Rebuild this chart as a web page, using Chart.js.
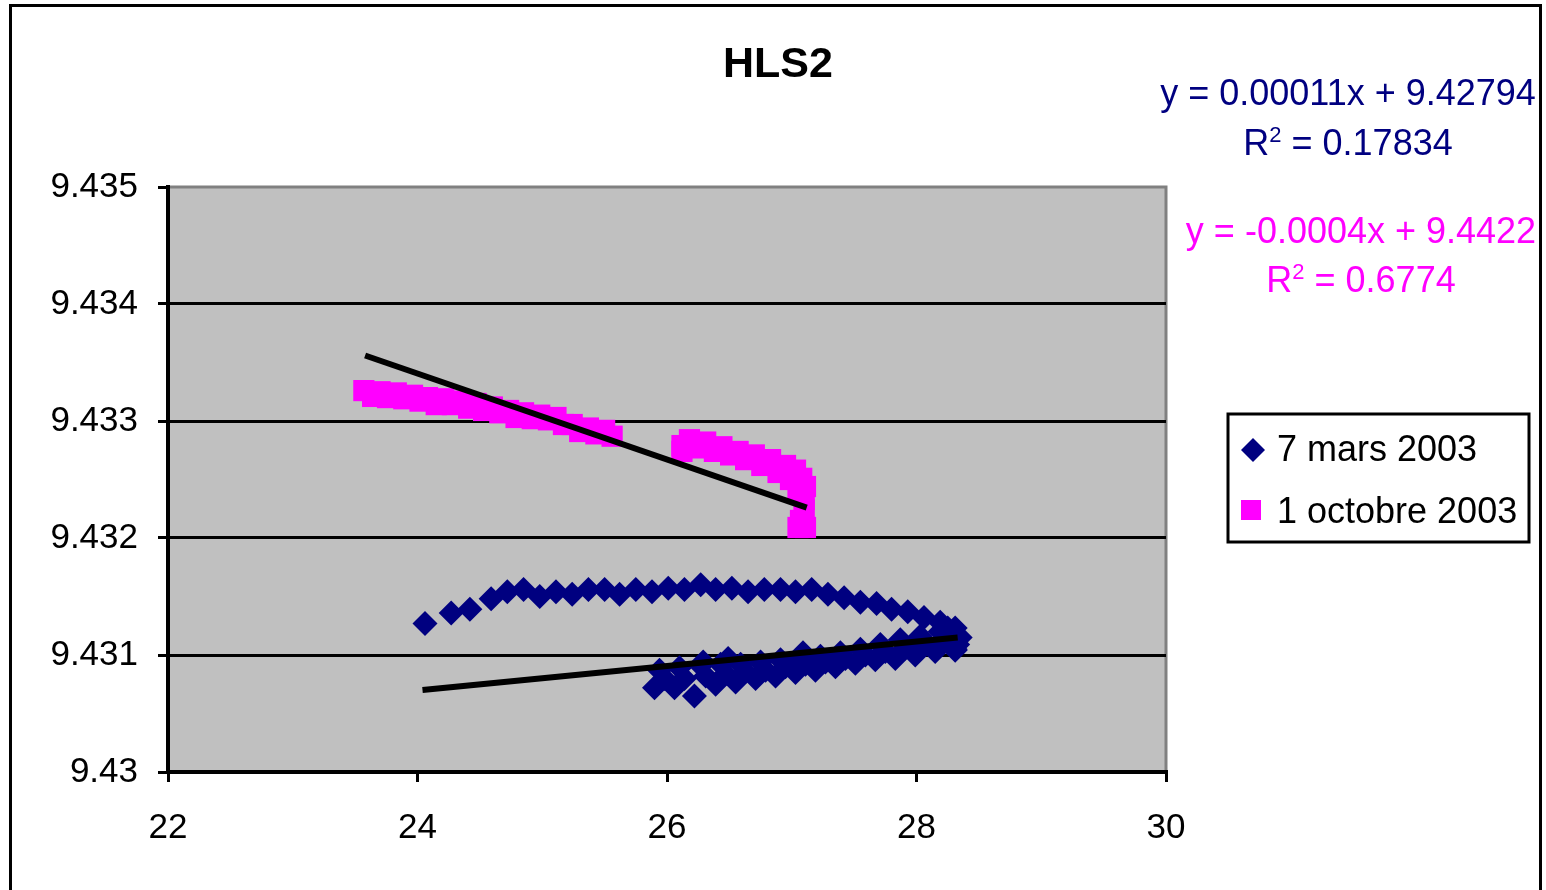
<!DOCTYPE html>
<html>
<head>
<meta charset="utf-8">
<script src="https://cdn.jsdelivr.net/npm/chart.js@4.4.0/dist/chart.umd.min.js"></script>
<style>
  html, body { margin: 0; padding: 0; background: #fff; overflow: hidden; }
  #wrap { position: relative; width: 1546px; height: 890px; }
  #chart { position: absolute; left: 0; top: 0; }
  #frame { position: absolute; left: 9px; top: 4px; width: 1527px; height: 1000px;
           border: 3px solid #000; border-bottom: none; pointer-events: none; }
</style>
</head>
<body>
<div id="wrap">
  <canvas id="chart" width="1546" height="890"></canvas>
  <div id="frame"></div>
</div>
<script>
var FONT = '"Liberation Sans", Arial, Helvetica, sans-serif';

var chartTitle = 'HLS2';
var seriesLabels = ['7 mars 2003', '1 octobre 2003'];
var seriesColors = ['#000080', '#ff00ff'];

// 7 mars 2003 (blue diamonds): upper path, then the return band
var marsX = [24.06, 24.27, 24.42, 24.59, 24.72, 24.85, 24.98, 25.11, 25.24, 25.37, 25.50, 25.62,
  25.75, 25.88, 26.01, 26.14, 26.27, 26.39, 26.52, 26.65, 26.78, 26.91, 27.03, 27.16, 27.29, 27.42,
  27.55, 27.68, 27.80, 27.93, 28.06, 28.19, 28.25, 28.31, 28.33, 28.31,
  28.31, 28.19, 28.03, 27.87, 27.71, 27.55, 27.39, 27.23, 27.07, 26.91, 26.75, 26.59, 26.43, 26.27, 26.10, 25.94,
  28.35, 28.23, 28.07, 27.91, 27.75, 27.59, 27.43, 27.27, 27.11, 26.95, 26.79, 26.63, 26.47, 26.31, 26.14, 25.98,
  28.31, 28.15, 27.99, 27.83, 27.67, 27.51, 27.35, 27.19, 27.03, 26.87, 26.71, 26.55, 26.39, 26.22, 26.06, 25.90,
  26.49, 27.09, 26.29];
var marsY = [9.43127, 9.43136, 9.43139, 9.43148, 9.43154, 9.43156, 9.43150, 9.43154, 9.43152, 9.43156, 9.43156, 9.43152,
  9.43156, 9.43154, 9.43157, 9.43156, 9.43160, 9.43156, 9.43157, 9.43154, 9.43156, 9.43156, 9.43154, 9.43156, 9.43152, 9.43149,
  9.43145, 9.43144, 9.43139, 9.43137, 9.43132, 9.43128, 9.43123, 9.43116, 9.43109, 9.43104,
  9.43123, 9.43120, 9.43116, 9.43113, 9.43109, 9.43105, 9.43102, 9.43099, 9.43097, 9.43096, 9.43094, 9.43092, 9.43092, 9.43091, 9.43089, 9.43087,
  9.43115, 9.43113, 9.43109, 9.43106, 9.43103, 9.43100, 9.43097, 9.43094, 9.43092, 9.43090, 9.43087, 9.43086, 9.43084, 9.43082, 9.43080, 9.43080,
  9.43105, 9.43103, 9.43100, 9.43097, 9.43096, 9.43093, 9.43090, 9.43087, 9.43085, 9.43082, 9.43080, 9.43077, 9.43075, 9.43065, 9.43072, 9.43072,
  9.43097, 9.43102, 9.43094];

// 1 octobre 2003 (pink squares)
var octX = [23.57, 23.64, 23.70, 23.76, 23.83, 23.89, 23.96, 24.02, 24.08, 24.15, 24.21, 24.28, 24.34, 24.41,
  24.47, 24.53, 24.60, 24.66, 24.73, 24.79, 24.85, 24.92, 24.98, 25.05, 25.11, 25.17, 25.24, 25.30, 25.37,
  25.43, 25.50, 25.56,
  26.12, 26.12, 26.18, 26.25, 26.31, 26.38, 26.44, 26.51, 26.57, 26.63, 26.70, 26.76, 26.83, 26.89, 26.95,
  26.99, 27.03, 27.05, 27.08, 27.10, 27.11, 27.10, 27.07, 27.05, 27.11];
var octY = [9.43326, 9.43321, 9.43325, 9.43320, 9.43324, 9.43319, 9.43322, 9.43317, 9.43320, 9.43314, 9.43319, 9.43314, 9.43317, 9.43311,
  9.43315, 9.43309, 9.43312, 9.43307, 9.43309, 9.43303, 9.43307, 9.43302, 9.43305, 9.43301, 9.43303, 9.43297, 9.43297, 9.43291, 9.43294,
  9.43289, 9.43292, 9.43287,
  9.43279, 9.43274, 9.43284, 9.43277, 9.43282, 9.43274, 9.43278, 9.43271, 9.43274, 9.43267, 9.43271, 9.43262, 9.43267, 9.43256, 9.43262,
  9.43250, 9.43258, 9.43241, 9.43251, 9.43233, 9.43244, 9.43224, 9.43215, 9.43209, 9.43209];

// linear trend lines (end points)
var marsTrendX = [24.04, 28.33];
var marsTrendY = [9.43070, 9.43115];
var octTrendX = [23.58, 27.12];
var octTrendY = [9.43356, 9.43226];

var marsEquation = ['y = 0.00011x + 9.42794', ' = 0.17834'];
var octEquation = ['y = -0.0004x + 9.4422', ' = 0.6774'];

var xMin = 22, xMax = 30, xStep = 2;
var yMin = 9.43, yMax = 9.435, yStep = 0.001;

function toPoints(xs, ys) {
  return xs.map(function(x, i) { return {x: x, y: ys[i]}; });
}

// Equation text with R squared
function drawEquation(c, lines, cx, base1, base2, color) {
  c.fillStyle = color;
  c.textBaseline = 'alphabetic';
  c.textAlign = 'left';
  c.font = '36px ' + FONT;
  var w1 = c.measureText(lines[0]).width;
  c.fillText(lines[0], cx - w1 / 2, base1);
  var wR = c.measureText('R').width;
  var wRest = c.measureText(lines[1]).width;
  c.font = '22px ' + FONT;
  var w2 = c.measureText('2').width;
  var x = cx - (wR + w2 + wRest) / 2;
  c.font = '36px ' + FONT;
  c.fillText('R', x, base2);
  c.font = '22px ' + FONT;
  c.fillText('2', x + wR, base2 - 13);
  c.font = '36px ' + FONT;
  c.fillText(lines[1], x + wR + w2, base2);
}

var decor = {
  id: 'decor',
  beforeDraw: function(chart) {
    var a = chart.chartArea, c = chart.ctx;
    c.save();
    c.fillStyle = '#c0c0c0';
    c.fillRect(a.left, a.top, a.right - a.left, a.bottom - a.top);
    c.strokeStyle = '#808080';
    c.lineWidth = 3;
    c.beginPath();
    c.moveTo(a.left, a.top);
    c.lineTo(a.right, a.top);
    c.lineTo(a.right, a.bottom);
    c.stroke();
    c.restore();
  },
  afterDraw: function(chart) {
    var c = chart.ctx;
    c.save();
    // title
    c.fillStyle = '#000';
    c.font = 'bold 43px ' + FONT;
    c.textAlign = 'center';
    c.textBaseline = 'alphabetic';
    c.fillText(chartTitle, 778, 77);

    drawEquation(c, marsEquation, 1348, 105, 155, seriesColors[0]);
    drawEquation(c, octEquation, 1361, 243, 292, seriesColors[1]);

    // legend
    c.fillStyle = '#fff';
    c.fillRect(1228, 414, 301, 128);
    c.strokeStyle = '#000';
    c.lineWidth = 3;
    c.strokeRect(1228, 414, 301, 128);

    c.fillStyle = seriesColors[0];
    c.beginPath();
    c.moveTo(1253, 438); c.lineTo(1265, 450); c.lineTo(1253, 462); c.lineTo(1241, 450);
    c.closePath();
    c.fill();
    c.fillStyle = seriesColors[1];
    c.fillRect(1241, 500, 20, 20);

    c.fillStyle = '#000';
    c.font = '36px ' + FONT;
    c.textAlign = 'left';
    c.fillText(seriesLabels[0], 1277, 461);
    c.fillText(seriesLabels[1], 1277, 523);
    c.restore();
  }
};

var ctx = document.getElementById('chart').getContext('2d');

new Chart(ctx, {
  type: 'scatter',
  data: {
    datasets: [
      {
        label: 'trend mars',
        data: toPoints(marsTrendX, marsTrendY),
        showLine: true,
        borderColor: '#000',
        borderWidth: 6,
        pointRadius: 0,
        order: 0
      },
      {
        label: 'trend octobre',
        data: toPoints(octTrendX, octTrendY),
        showLine: true,
        borderColor: '#000',
        borderWidth: 6,
        pointRadius: 0,
        order: 0
      },
      {
        label: seriesLabels[0],
        data: toPoints(marsX, marsY),
        pointStyle: 'rectRot',
        pointRadius: 12.5,
        backgroundColor: seriesColors[0],
        borderColor: seriesColors[0],
        borderWidth: 0,
        order: 2
      },
      {
        label: seriesLabels[1],
        data: toPoints(octX, octY),
        pointStyle: 'rect',
        pointRadius: 15,
        backgroundColor: seriesColors[1],
        borderColor: seriesColors[1],
        borderWidth: 0,
        order: 1
      }
    ]
  },
  options: {
    responsive: false,
    animation: false,
    events: [],
    layout: { padding: { left: 0, top: 187, right: 380, bottom: 0 } },
    plugins: {
      legend: { display: false },
      title: { display: false },
      tooltip: { enabled: false }
    },
    scales: {
      x: {
        type: 'linear',
        min: xMin,
        max: xMax,
        ticks: {
          stepSize: xStep,
          color: '#000',
          font: { family: FONT, size: 35 },
          padding: 25,
          maxRotation: 0,
          autoSkip: false
        },
        grid: { drawOnChartArea: false, color: '#000', tickColor: '#000', lineWidth: 3, tickLength: 10 },
        border: { color: '#000', width: 4 },
        afterFit: function(s) { s.height = 118; }
      },
      y: {
        type: 'linear',
        min: yMin,
        max: yMax,
        ticks: {
          stepSize: yStep,
          color: '#000',
          font: { family: FONT, size: 35 },
          padding: 20,
          callback: function(v) { return String(+v.toFixed(3)); }
        },
        grid: {
          color: function(c) {
            return c.tick && Math.abs(c.tick.value - yMax) < 1e-9 ? 'rgba(0,0,0,0)' : '#000';
          },
          tickColor: '#000',
          lineWidth: 3,
          tickLength: 10
        },
        border: { color: '#000', width: 4 },
        afterFit: function(s) { s.width = 168; }
      }
    }
  },
  plugins: [decor]
});
</script>
</body>
</html>
